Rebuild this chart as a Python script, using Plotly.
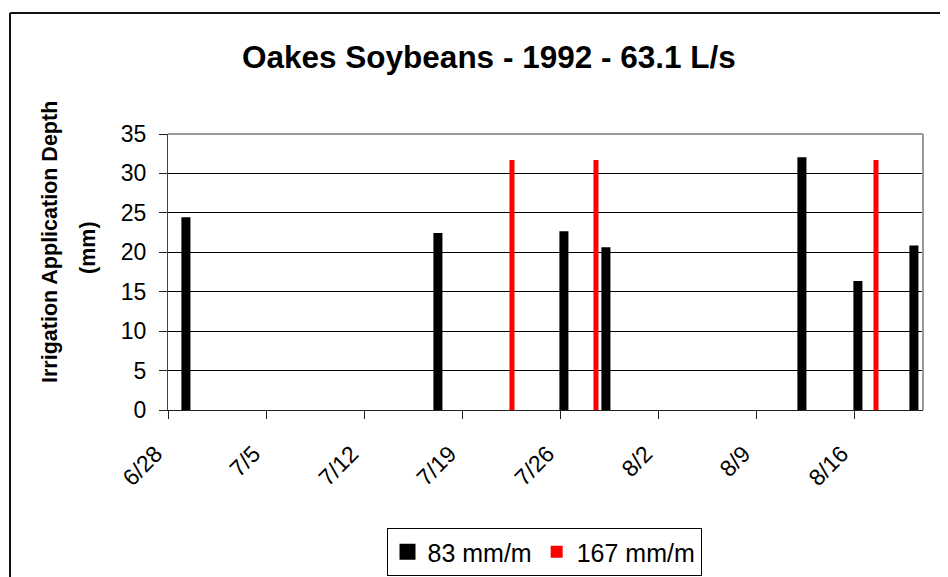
import plotly.graph_objects as go
import pandas as pd

# ---- data ----
dates_83 = ["1992-06-29", "1992-07-17", "1992-07-26", "1992-07-29",
            "1992-08-12", "1992-08-16", "1992-08-20"]
depth_83 = [24.2, 22.2, 22.4, 20.4, 31.8, 16.1, 20.6]

dates_167 = ["1992-07-22", "1992-07-28", "1992-08-17"]
depth_167 = [31.7, 31.7, 31.7]

tick_dates = ["1992-06-28", "1992-07-05", "1992-07-12", "1992-07-19",
              "1992-07-26", "1992-08-02", "1992-08-09", "1992-08-16"]
tick_labels = ["6/28", "7/5", "7/12", "7/19", "7/26", "8/2", "8/9", "8/16"]

series_names = ["83 mm/m", "167 mm/m"]
title_text = "Oakes Soybeans - 1992 - 63.1 L/s"
ytitle_line1 = "Irrigation Application Depth"
ytitle_line2 = "(mm)"

# ---- layout geometry (page has an 8px body margin) ----
OFF = 8
W, H = 948 - OFF, 577 - OFF
ML, MR, MT, MB = 168 - OFF, 25, 134 - OFF, 167
PW, PH = W - ML - MR, H - MT - MB
DAY = 86400000
FONT = "Liberation Sans, Arial, sans-serif"


def px(x):
    return (x - OFF - ML) / PW


def py(y):
    return (H - MB - (y - OFF)) / PH


x_start = pd.Timestamp("1992-06-28")
x_end = x_start + pd.Timedelta(days=PW / 14.0)

# trailing no-break spaces push the rotated labels down-left like the reference
tick_text_padded = [t + "\u00a0\u00a0\u2009" for t in tick_labels]

fig = go.Figure()
fig.add_trace(go.Bar(
    x=dates_83, y=depth_83, name=series_names[0],
    width=0.36 * DAY, offset=0.10 * DAY,
    marker=dict(color="#000000", line=dict(color="#000000", width=4)),
))
fig.add_trace(go.Bar(
    x=dates_167, y=depth_167, name=series_names[1],
    width=0.36 * DAY, offset=0.39 * DAY,
    marker=dict(color="#ff0000", line=dict(width=0)),
))

fig.update_layout(
    width=W, height=H,
    margin=dict(l=ML, r=MR, t=MT, b=MB, pad=0, autoexpand=False),
    paper_bgcolor="white", plot_bgcolor="white",
    barmode="overlay",
    font=dict(family=FONT, size=23, color="black"),
    showlegend=True,
    legend=dict(
        orientation="h", x=px(544), xanchor="center", y=py(576), yanchor="bottom",
        bordercolor="black", borderwidth=1, font=dict(size=25),
        itemwidth=30, tracegroupgap=0,
    ),
    xaxis=dict(
        type="date", range=[x_start, x_end],
        tickvals=tick_dates, ticktext=tick_text_padded, tickangle=-45,
        ticks="outside", ticklen=8, tickcolor="#222", tickwidth=1,
        ticklabelstandoff=0, automargin=False,
        showgrid=False, zeroline=False,
        showline=True, linecolor="#222", linewidth=1,
        tickfont=dict(size=23),
    ),
    yaxis=dict(
        range=[0, 35], dtick=5, tick0=0,
        ticks="outside", ticklen=8, tickcolor="#222", tickwidth=1,
        ticklabelstandoff=8, automargin=False,
        showgrid=True, gridcolor="black", gridwidth=1,
        zeroline=False, showline=True, linecolor="#444", linewidth=1,
        tickfont=dict(size=23),
    ),
    annotations=[
        dict(text="<b>" + title_text + "</b>", xref="paper", yref="paper",
             x=px(489), y=py(57), xanchor="center", yanchor="middle",
             showarrow=False, font=dict(size=31.5)),
        dict(text="<b>" + ytitle_line1 + "</b>", xref="paper", yref="paper",
             x=px(50), y=py(242), xanchor="center", yanchor="middle",
             textangle=-90, showarrow=False, font=dict(size=21.5)),
        dict(text="<b>" + ytitle_line2 + "</b>", xref="paper", yref="paper",
             x=px(88), y=py(248), xanchor="center", yanchor="middle",
             textangle=-90, showarrow=False, font=dict(size=21.5)),
    ],
    shapes=[
        dict(type="line", xref="paper", yref="paper", x0=0, x1=1, y0=1, y1=1,
             line=dict(color="#9a9a9a", width=2), layer="above"),
        dict(type="line", xref="paper", yref="paper", x0=1, x1=1, y0=0, y1=1,
             line=dict(color="#9a9a9a", width=2), layer="above"),
        dict(type="line", xref="paper", yref="paper", x0=px(10), x1=px(10),
             y0=py(13), y1=py(600), line=dict(color="#111", width=2)),
        dict(type="line", xref="paper", yref="paper", x0=px(10), x1=px(960),
             y0=py(13), y1=py(13), line=dict(color="#111", width=2)),
    ],
)

fig.write_html("out.html")
